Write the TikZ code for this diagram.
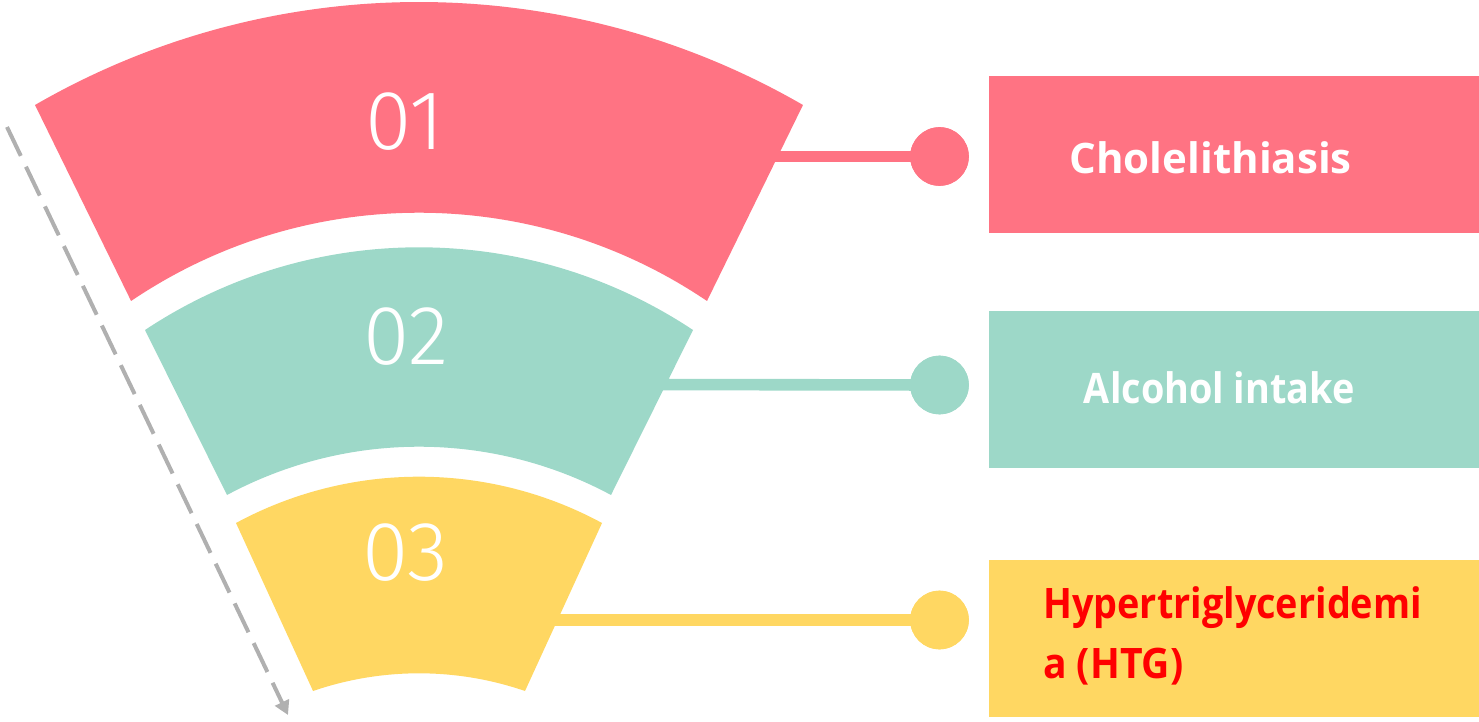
\documentclass[tikz,border=0pt]{standalone}
\usepackage{fontspec}
\setmainfont{Open Sans}
\newfontfamily\numfont{Fira Sans Light}
\usetikzlibrary{arrows.meta}
\definecolor{segpink}{HTML}{FF7383}
\definecolor{segteal}{HTML}{9DD8C8}
\definecolor{segyellow}{HTML}{FFD762}
\definecolor{guidegray}{HTML}{B0B0B0}
\newcommand\narrow[2]{\scalebox{#1}[1]{#2}}
\begin{document}
\begin{tikzpicture}[x=1pt,y=1pt,
  numlabel/.style={text=white,font=\numfont\fontsize{84}{84}\selectfont,anchor=base,inner sep=0pt},
  tag/.style={font=\bfseries\fontsize{42}{50}\selectfont,inner sep=0pt},
  dot/.style={circle,minimum size=58.6pt,inner sep=0pt},
  link/.style={line width=11.6pt},
  card/.style={minimum width=490pt,minimum height=157pt,inner sep=0pt,anchor=south west}
]
\useasboundingbox (0,0) rectangle (1479,721);

% connector start points, set inside each band
\coordinate (s1) at (750,564.5);
\coordinate (s2) at (640,336.5);
\coordinate (s3) at (530,101);

% end dots
\node[dot,fill=segpink]   (d1) at (939.5,564.5) {};
\node[dot,fill=segteal]   (d2) at (939.5,336) {};
\node[dot,fill=segyellow] (d3) at (939.5,101) {};

% connectors
\draw[link,segpink]   (s1) -- (d1.center);
\draw[link,segteal]   (s2) -- (d2.center);
\draw[link,segyellow] (s3) -- (d3.center);

% fan bands
\fill[segpink] (35,616) arc[start angle=120.03,end angle=59.97,radius=767.3]
  -- (707,420) arc[start angle=55.91,end angle=124.09,radius=513.8] -- cycle;
\fill[segteal] (145,391) arc[start angle=123.59,end angle=56.41,radius=495.3]
  -- (611,226) arc[start angle=61.76,end angle=118.24,radius=405.8] -- cycle;
\fill[segyellow] (236,198) arc[start angle=118.40,end angle=61.60,radius=384.8]
  -- (525,30) arc[start angle=71.04,end angle=108.96,radius=326.2] -- cycle;

% dots drawn again on top of the connectors
\fill[segpink]   (d1) circle[radius=29.3pt];
\fill[segteal]   (d2) circle[radius=29.3pt];
\fill[segyellow] (d3) circle[radius=29.3pt];

% band numbers
\node[numlabel] (n1) at (405,571) {01};
\node[numlabel] (n2) at (406,356) {02};
\node[numlabel] (n3) at (405.5,141) {03};

% cards
\node[card,fill=segpink]   (r1) at (989,488) {};
\node[card,fill=segteal]   (r2) at (989,253) {};
\node[card,fill=segyellow] (r3) at (989,4) {};

\node[tag,text=white,anchor=base] (t1) at (1210.7,547.7) {Cholelithiasis};
\node[tag,text=white,anchor=base] (t2) at (1219.3,317.7) {\narrow{0.9}{Alcohol intake}};
\node[tag,text=red,anchor=base west] (t3a) at (1043,102.7) {\narrow{0.9}{Hypertriglyceridemi}};
\node[tag,text=red,anchor=base west] (t3b) at (1043,43) {\narrow{0.93}{a (HTG)}};

% dashed guide arrow
\coordinate (g0) at (7,594);
\coordinate (g1) at (288,6);
\draw[guidegray,line width=4pt,dash pattern=on 32pt off 12pt,
  -{Triangle[length=14pt,width=15pt]}] (g0) -- (g1);
\end{tikzpicture}
\end{document}
